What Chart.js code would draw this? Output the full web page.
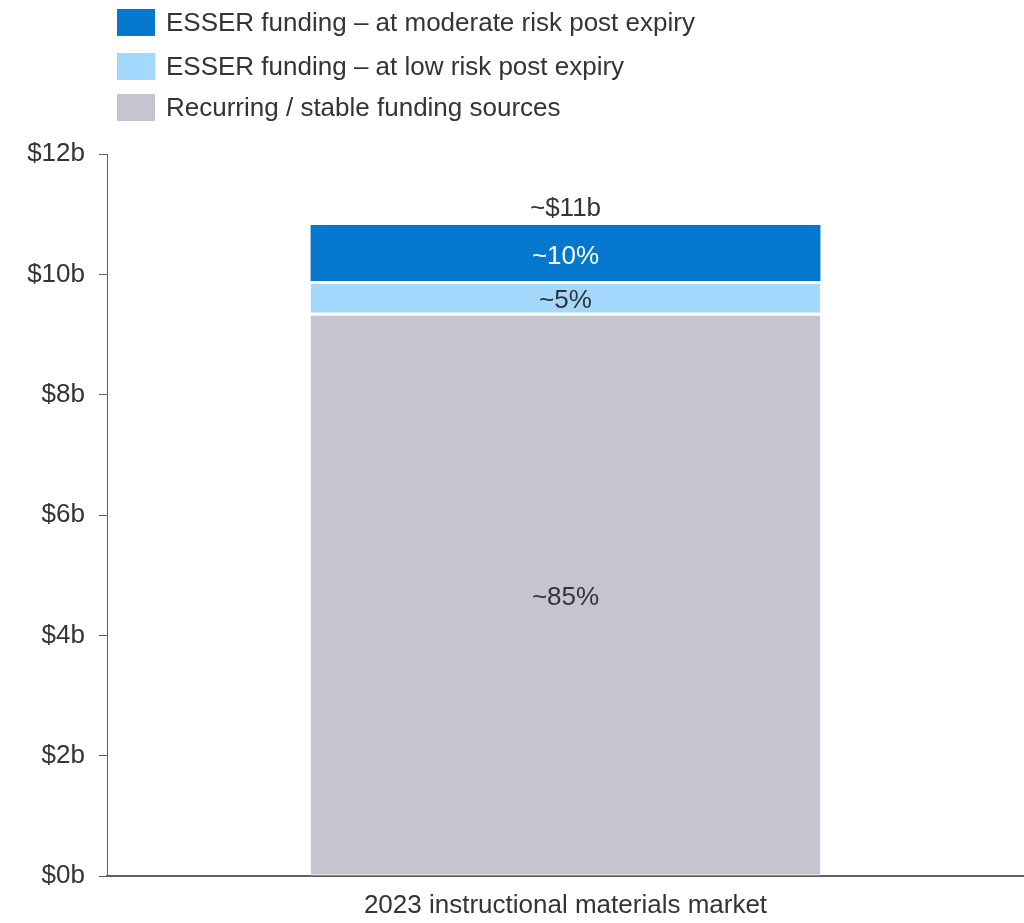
<!DOCTYPE html>
<html>
<head>
<meta charset="utf-8">
<script src="https://cdn.jsdelivr.net/npm/chart.js@4.4.1/dist/chart.umd.min.js"></script>
<style>
  html, body { margin: 0; padding: 0; background: #fff; }
  #wrap { position: relative; width: 1024px; height: 923px; }
</style>
</head>
<body>
<div id="wrap"><canvas id="c" width="1024" height="923"></canvas></div>
<script>
const categories = ['2023 instructional materials market'];
const seriesLabels = [
  'Recurring / stable funding sources',
  'ESSER funding \u2013 at low risk post expiry',
  'ESSER funding \u2013 at moderate risk post expiry'
];
const recurring = [9.36];
const lowRisk = [0.53];
const moderateRisk = [0.93];
const segmentLabels = ['~85%', '~5%', '~10%'];
const totalLabel = '~$11b';
const yTicks = [0, 2, 4, 6, 8, 10, 12];

const FONT = '"Liberation Sans", Arial, sans-serif';
const TEXT = '#333338';
const colors = ['#C5C5CF', '#A5D8FD', '#0577CC'];

const legendPlugin = {
  id: 'customLegend',
  afterDraw(chart) {
    const ctx = chart.ctx;
    ctx.save();
    const order = [2, 1, 0];
    const rows = [22, 66, 107];
    ctx.font = '26px ' + FONT;
    ctx.textBaseline = 'middle';
    ctx.textAlign = 'left';
    order.forEach((di, i) => {
      const ds = chart.data.datasets[di];
      ctx.fillStyle = ds.backgroundColor;
      ctx.fillRect(117, rows[i] - 13, 38, 27);
      ctx.fillStyle = TEXT;
      ctx.fillText(ds.label, 166, rows[i] + 2);
    });
    ctx.restore();
  }
};

const labelPlugin = {
  id: 'segLabels',
  afterDatasetsDraw(chart) {
    const ctx = chart.ctx;
    ctx.save();
    ctx.font = '26px ' + FONT;
    ctx.textAlign = 'center';
    ctx.textBaseline = 'middle';
    chart.data.datasets.forEach((ds, di) => {
      const meta = chart.getDatasetMeta(di);
      meta.data.forEach((bar) => {
        const yc = (bar.y + bar.base) / 2;
        ctx.fillStyle = di === 2 ? '#ffffff' : TEXT;
        ctx.fillText(segmentLabels[di], bar.x, yc + 4);
      });
    });
    const topMeta = chart.getDatasetMeta(2);
    topMeta.data.forEach((bar) => {
      ctx.fillStyle = TEXT;
      ctx.fillText(totalLabel, bar.x, bar.y - 16);
    });
    ctx.restore();
  }
};

new Chart(document.getElementById('c'), {
  type: 'bar',
  data: {
    labels: categories,
    datasets: [
      { label: seriesLabels[0], data: recurring, backgroundColor: colors[0], borderColor: '#ffffff', borderWidth: {top: 3, bottom: 1, left: 0, right: 0}, borderSkipped: false },
      { label: seriesLabels[1], data: lowRisk, backgroundColor: colors[1], borderColor: '#ffffff', borderWidth: {top: 3, bottom: 0, left: 0, right: 0}, borderSkipped: false },
      { label: seriesLabels[2], data: moderateRisk, backgroundColor: colors[2], borderWidth: 0 }
    ]
  },
  options: {
    responsive: false,
    animation: false,
    barPercentage: 0.556,
    categoryPercentage: 1,
    layout: { padding: { top: 154, right: 0, left: 3, bottom: 0 } },
    plugins: { legend: { display: false }, tooltip: { enabled: false } },
    scales: {
      x: {
        stacked: true,
        grid: { display: false, drawTicks: false },
        border: { display: true, color: '#5f5f66', width: 2 },
        ticks: { color: TEXT, font: { family: FONT, size: 26 }, padding: 14 },
        afterFit(s) { s.height = 47; }
      },
      y: {
        stacked: true,
        min: 0, max: 12,
        afterBuildTicks(s) { s.ticks = yTicks.map(v => ({ value: v })); },
        grid: { drawOnChartArea: false, drawTicks: true, tickLength: 8, color: '#5f5f66', lineWidth: 1 },
        border: { display: true, color: '#5f5f66', width: 1 },
        ticks: { color: TEXT, font: { family: FONT, size: 26 }, padding: 14, callback: v => '$' + v + 'b' },
        afterFit(s) { s.width = 104; }
      }
    }
  },
  plugins: [legendPlugin, labelPlugin]
});
</script>
</body>
</html>
